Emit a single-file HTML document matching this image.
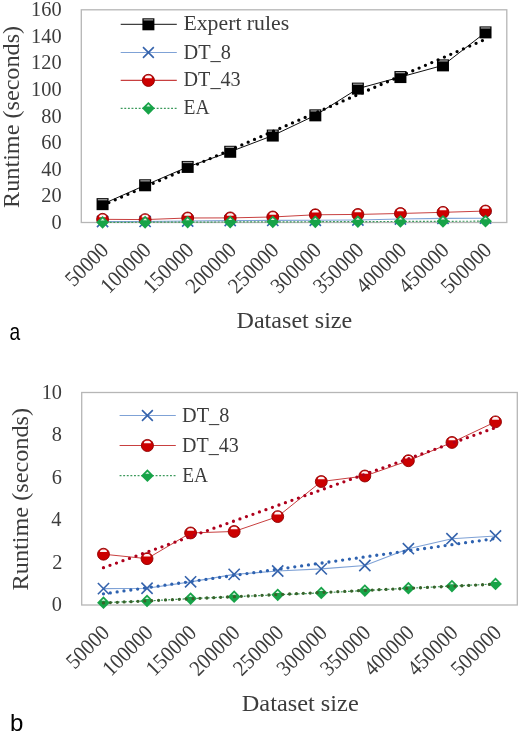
<!DOCTYPE html>
<html><head><meta charset="utf-8"><style>
html,body{margin:0;padding:0;background:#fff;overflow:hidden;}
svg{display:block;will-change:transform;}
.t{font-family:"Liberation Serif", serif;fill:#3C3C3C;font-kerning:none;}
.ab{font-family:"Liberation Sans",sans-serif;font-size:24px;fill:#000;}
</style></head><body>
<svg width="520" height="733" viewBox="0 0 520 733">
<rect width="520" height="733" fill="#fff"/>
<rect x="81.3" y="9.8" width="425.50" height="212.70" fill="none" stroke="#B6B6B6" stroke-width="1.3"/>
<text class="t" style="font-size:22px" transform="translate(51.40 228.95) scale(0.9250 1)">0</text>
<text class="t" style="font-size:22px" transform="translate(41.23 202.36) scale(0.9250 1)">20</text>
<text class="t" style="font-size:22px" transform="translate(41.23 175.77) scale(0.9250 1)">40</text>
<text class="t" style="font-size:22px" transform="translate(41.23 149.19) scale(0.9250 1)">60</text>
<text class="t" style="font-size:22px" transform="translate(41.23 122.60) scale(0.9250 1)">80</text>
<text class="t" style="font-size:22px" transform="translate(31.05 96.01) scale(0.9250 1)">100</text>
<text class="t" style="font-size:22px" transform="translate(31.05 69.43) scale(0.9250 1)">120</text>
<text class="t" style="font-size:22px" transform="translate(31.05 42.84) scale(0.9250 1)">140</text>
<text class="t" style="font-size:22px" transform="translate(31.05 16.25) scale(0.9250 1)">160</text>
<text class="t" style="font-size:22px" transform="translate(109.17 252.00) rotate(-45) translate(-50.10 0) scale(0.925 1)">50000</text>
<text class="t" style="font-size:22px" transform="translate(151.72 252.00) rotate(-45) translate(-60.27 0) scale(0.925 1)">100000</text>
<text class="t" style="font-size:22px" transform="translate(194.28 252.00) rotate(-45) translate(-60.27 0) scale(0.925 1)">150000</text>
<text class="t" style="font-size:22px" transform="translate(236.82 252.00) rotate(-45) translate(-60.27 0) scale(0.925 1)">200000</text>
<text class="t" style="font-size:22px" transform="translate(279.38 252.00) rotate(-45) translate(-60.27 0) scale(0.925 1)">250000</text>
<text class="t" style="font-size:22px" transform="translate(321.93 252.00) rotate(-45) translate(-60.27 0) scale(0.925 1)">300000</text>
<text class="t" style="font-size:22px" transform="translate(364.48 252.00) rotate(-45) translate(-60.27 0) scale(0.925 1)">350000</text>
<text class="t" style="font-size:22px" transform="translate(407.03 252.00) rotate(-45) translate(-60.27 0) scale(0.925 1)">400000</text>
<text class="t" style="font-size:22px" transform="translate(449.57 252.00) rotate(-45) translate(-60.27 0) scale(0.925 1)">450000</text>
<text class="t" style="font-size:22px" transform="translate(492.12 252.00) rotate(-45) translate(-60.27 0) scale(0.925 1)">500000</text>
<text class="t" style="font-size:23px" transform="translate(236.51 327.80) scale(1.0485 1)">Dataset size</text>
<text class="t" style="font-size:23px" transform="translate(18.50 117.05) rotate(-90) translate(-90.85 0) scale(1.0517 1)">Runtime (seconds)</text>
<text class="ab" transform="translate(9.4 340) scale(0.8 1)">a</text>
<path d="M102.57 204.15L145.12 185.28L187.68 166.93L230.22 151.78L272.77 135.56L315.32 115.35L357.88 88.63L400.43 77.07L442.97 65.37L485.52 32.40" stroke="#111" stroke-width="1.0" fill="none"/>
<path d="M102.57 221.48L145.12 221.45L187.68 221.05L230.22 220.59L272.77 220.37L315.32 220.24L357.88 220.03L400.43 218.98L442.97 218.35L485.52 218.18" stroke="#7FA2D6" stroke-width="1.1" fill="none"/>
<path d="M102.57 219.32L145.12 219.60L187.68 217.99L230.22 217.90L272.77 216.97L315.32 214.78L357.88 214.43L400.43 213.47L442.97 212.33L485.52 211.04" stroke="#C84040" stroke-width="1.0" fill="none"/>
<path d="M102.57 222.35L145.12 222.25L187.68 222.10L230.22 221.98L272.77 221.86L315.32 221.74L357.88 221.60L400.43 221.45L442.97 221.32L485.52 221.18" stroke="#3C9A5C" stroke-width="1.2" fill="none" stroke-dasharray="1.9 1.7"/>
<rect x="96.57" y="198.15" width="12.0" height="12.0" fill="#000"/><rect x="97.77" y="199.05" width="9.60" height="1.3" fill="#9A9A9A"/>
<rect x="139.12" y="179.28" width="12.0" height="12.0" fill="#000"/><rect x="140.32" y="180.18" width="9.60" height="1.3" fill="#9A9A9A"/>
<rect x="181.68" y="160.93" width="12.0" height="12.0" fill="#000"/><rect x="182.88" y="161.83" width="9.60" height="1.3" fill="#9A9A9A"/>
<rect x="224.22" y="145.78" width="12.0" height="12.0" fill="#000"/><rect x="225.42" y="146.68" width="9.60" height="1.3" fill="#9A9A9A"/>
<rect x="266.77" y="129.56" width="12.0" height="12.0" fill="#000"/><rect x="267.97" y="130.46" width="9.60" height="1.3" fill="#9A9A9A"/>
<rect x="309.32" y="109.35" width="12.0" height="12.0" fill="#000"/><rect x="310.52" y="110.25" width="9.60" height="1.3" fill="#9A9A9A"/>
<rect x="351.88" y="82.63" width="12.0" height="12.0" fill="#000"/><rect x="353.07" y="83.53" width="9.60" height="1.3" fill="#9A9A9A"/>
<rect x="394.43" y="71.07" width="12.0" height="12.0" fill="#000"/><rect x="395.62" y="71.97" width="9.60" height="1.3" fill="#9A9A9A"/>
<rect x="436.97" y="59.37" width="12.0" height="12.0" fill="#000"/><rect x="438.17" y="60.27" width="9.60" height="1.3" fill="#9A9A9A"/>
<rect x="479.52" y="26.40" width="12.0" height="12.0" fill="#000"/><rect x="480.72" y="27.30" width="9.60" height="1.3" fill="#9A9A9A"/>
<path d="M96.97 215.88L108.17 227.08M108.17 215.88L96.97 227.08" stroke="#3563AC" stroke-width="1.6" fill="none"/>
<path d="M139.53 215.85L150.72 227.05M150.72 215.85L139.53 227.05" stroke="#3563AC" stroke-width="1.6" fill="none"/>
<path d="M182.08 215.45L193.28 226.65M193.28 215.45L182.08 226.65" stroke="#3563AC" stroke-width="1.6" fill="none"/>
<path d="M224.62 214.99L235.82 226.19M235.82 214.99L224.62 226.19" stroke="#3563AC" stroke-width="1.6" fill="none"/>
<path d="M267.17 214.77L278.38 225.97M278.38 214.77L267.17 225.97" stroke="#3563AC" stroke-width="1.6" fill="none"/>
<path d="M309.72 214.64L320.93 225.84M320.93 214.64L309.72 225.84" stroke="#3563AC" stroke-width="1.6" fill="none"/>
<path d="M352.27 214.43L363.48 225.63M363.48 214.43L352.27 225.63" stroke="#3563AC" stroke-width="1.6" fill="none"/>
<path d="M394.82 213.38L406.03 224.58M406.03 213.38L394.82 224.58" stroke="#3563AC" stroke-width="1.6" fill="none"/>
<path d="M437.37 212.75L448.57 223.95M448.57 212.75L437.37 223.95" stroke="#3563AC" stroke-width="1.6" fill="none"/>
<path d="M479.92 212.58L491.12 223.78M491.12 212.58L479.92 223.78" stroke="#3563AC" stroke-width="1.6" fill="none"/>
<circle cx="102.57" cy="219.32" r="5.95" fill="#CC0000" stroke="#900000" stroke-width="0.9"/><path d="M99.05 217.15C99.05 214.99 100.81 214.59 102.57 214.59C104.33 214.59 106.09 214.99 106.09 217.15Z" fill="#ffffff" opacity="0.95"/>
<circle cx="145.12" cy="219.60" r="5.95" fill="#CC0000" stroke="#900000" stroke-width="0.9"/><path d="M141.60 217.43C141.60 215.27 143.37 214.87 145.12 214.87C146.88 214.87 148.65 215.27 148.65 217.43Z" fill="#ffffff" opacity="0.95"/>
<circle cx="187.68" cy="217.99" r="5.95" fill="#CC0000" stroke="#900000" stroke-width="0.9"/><path d="M184.16 215.82C184.16 213.66 185.92 213.26 187.68 213.26C189.44 213.26 191.20 213.66 191.20 215.82Z" fill="#ffffff" opacity="0.95"/>
<circle cx="230.22" cy="217.90" r="5.95" fill="#CC0000" stroke="#900000" stroke-width="0.9"/><path d="M226.70 215.72C226.70 213.56 228.46 213.16 230.22 213.16C231.98 213.16 233.74 213.56 233.74 215.72Z" fill="#ffffff" opacity="0.95"/>
<circle cx="272.77" cy="216.97" r="5.95" fill="#CC0000" stroke="#900000" stroke-width="0.9"/><path d="M269.25 214.79C269.25 212.63 271.01 212.23 272.77 212.23C274.53 212.23 276.29 212.63 276.29 214.79Z" fill="#ffffff" opacity="0.95"/>
<circle cx="315.32" cy="214.78" r="5.95" fill="#CC0000" stroke="#900000" stroke-width="0.9"/><path d="M311.81 212.60C311.81 210.44 313.56 210.04 315.32 210.04C317.08 210.04 318.84 210.44 318.84 212.60Z" fill="#ffffff" opacity="0.95"/>
<circle cx="357.88" cy="214.43" r="5.95" fill="#CC0000" stroke="#900000" stroke-width="0.9"/><path d="M354.36 212.25C354.36 210.09 356.12 209.69 357.88 209.69C359.63 209.69 361.39 210.09 361.39 212.25Z" fill="#ffffff" opacity="0.95"/>
<circle cx="400.43" cy="213.47" r="5.95" fill="#CC0000" stroke="#900000" stroke-width="0.9"/><path d="M396.91 211.30C396.91 209.14 398.67 208.74 400.43 208.74C402.19 208.74 403.94 209.14 403.94 211.30Z" fill="#ffffff" opacity="0.95"/>
<circle cx="442.97" cy="212.33" r="5.95" fill="#CC0000" stroke="#900000" stroke-width="0.9"/><path d="M439.45 210.15C439.45 207.99 441.21 207.59 442.97 207.59C444.73 207.59 446.49 207.99 446.49 210.15Z" fill="#ffffff" opacity="0.95"/>
<circle cx="485.52" cy="211.04" r="5.95" fill="#CC0000" stroke="#900000" stroke-width="0.9"/><path d="M482.00 208.86C482.00 206.70 483.76 206.30 485.52 206.30C487.28 206.30 489.04 206.70 489.04 208.86Z" fill="#ffffff" opacity="0.95"/>
<path d="M102.57 215.95L108.97 222.35L102.57 228.75L96.17 222.35Z" fill="#17A348"/><path d="M100.53 220.43L102.57 218.39L104.62 220.43Z" fill="#ffffff" opacity="0.85"/>
<path d="M145.12 215.85L151.53 222.25L145.12 228.65L138.72 222.25Z" fill="#17A348"/><path d="M143.08 220.33L145.12 218.28L147.17 220.33Z" fill="#ffffff" opacity="0.85"/>
<path d="M187.68 215.70L194.08 222.10L187.68 228.50L181.28 222.10Z" fill="#17A348"/><path d="M185.63 220.18L187.68 218.13L189.72 220.18Z" fill="#ffffff" opacity="0.85"/>
<path d="M230.22 215.58L236.62 221.98L230.22 228.38L223.82 221.98Z" fill="#17A348"/><path d="M228.18 220.06L230.22 218.01L232.27 220.06Z" fill="#ffffff" opacity="0.85"/>
<path d="M272.77 215.46L279.17 221.86L272.77 228.26L266.38 221.86Z" fill="#17A348"/><path d="M270.73 219.94L272.77 217.89L274.82 219.94Z" fill="#ffffff" opacity="0.85"/>
<path d="M315.32 215.34L321.72 221.74L315.32 228.14L308.93 221.74Z" fill="#17A348"/><path d="M313.28 219.82L315.32 217.77L317.37 219.82Z" fill="#ffffff" opacity="0.85"/>
<path d="M357.88 215.20L364.27 221.60L357.88 228.00L351.48 221.60Z" fill="#17A348"/><path d="M355.83 219.68L357.88 217.63L359.92 219.68Z" fill="#ffffff" opacity="0.85"/>
<path d="M400.43 215.05L406.82 221.45L400.43 227.85L394.03 221.45Z" fill="#17A348"/><path d="M398.38 219.53L400.43 217.48L402.47 219.53Z" fill="#ffffff" opacity="0.85"/>
<path d="M442.97 214.92L449.37 221.32L442.97 227.72L436.57 221.32Z" fill="#17A348"/><path d="M440.93 219.40L442.97 217.35L445.02 219.40Z" fill="#ffffff" opacity="0.85"/>
<path d="M485.52 214.78L491.92 221.18L485.52 227.58L479.12 221.18Z" fill="#17A348"/><path d="M483.48 219.26L485.52 217.22L487.57 219.26Z" fill="#ffffff" opacity="0.85"/>
<path d="M102.57 205.27L485.52 39.23" stroke="#000" stroke-width="3.3" stroke-linecap="round" stroke-dasharray="0 6.9" fill="none"/>
<path d="M120.7 24.3H176.8" stroke="#404040" stroke-width="1.2"/>
<rect x="142.40" y="18.30" width="12.0" height="12.0" fill="#000"/><rect x="143.60" y="19.20" width="9.60" height="1.3" fill="#9A9A9A"/>
<text class="t" style="font-size:20.5px" transform="translate(183.47 30.30) scale(1.0612 1)">Expert rules</text>
<path d="M120.7 52.5H176.8" stroke="#7FA2D6" stroke-width="1.1"/>
<path d="M143.00 47.10L153.80 57.90M153.80 47.10L143.00 57.90" stroke="#3563AC" stroke-width="1.6" fill="none"/>
<text class="t" style="font-size:20.5px" transform="translate(183.51 58.50) scale(0.9924 1)">DT_8</text>
<path d="M120.7 80.4H176.8" stroke="#C84040" stroke-width="1.2"/>
<circle cx="148.40" cy="80.40" r="6.05" fill="#CC0000" stroke="#900000" stroke-width="0.9"/><path d="M144.83 78.19C144.83 75.99 146.61 75.59 148.40 75.59C150.19 75.59 151.97 75.99 151.97 78.19Z" fill="#ffffff" opacity="0.95"/>
<text class="t" style="font-size:20.5px" transform="translate(183.52 86.40) scale(0.9844 1)">DT_43</text>
<path d="M120.7 108.3H176.8" stroke="#3C9A5C" stroke-width="1.3" stroke-dasharray="1.9 1.7"/>
<path d="M148.40 101.90L154.80 108.30L148.40 114.70L142.00 108.30Z" fill="#17A348"/><path d="M146.35 106.38L148.40 104.33L150.45 106.38Z" fill="#ffffff" opacity="0.85"/>
<text class="t" style="font-size:20.5px" transform="translate(183.54 114.30) scale(0.9554 1)">EA</text>
<rect x="81.7" y="392.5" width="435.60" height="212.50" fill="none" stroke="#B6B6B6" stroke-width="1.3"/>
<text class="t" style="font-size:22px" transform="translate(51.80 611.45) scale(0.9250 1)">0</text>
<text class="t" style="font-size:22px" transform="translate(52.15 568.95) scale(0.9250 1)">2</text>
<text class="t" style="font-size:22px" transform="translate(51.34 526.45) scale(0.9250 1)">4</text>
<text class="t" style="font-size:22px" transform="translate(51.63 483.95) scale(0.9250 1)">6</text>
<text class="t" style="font-size:22px" transform="translate(51.80 441.45) scale(0.9250 1)">8</text>
<text class="t" style="font-size:22px" transform="translate(41.63 398.95) scale(0.9250 1)">10</text>
<text class="t" style="font-size:22px" transform="translate(110.08 634.50) rotate(-45) translate(-50.10 0) scale(0.925 1)">50000</text>
<text class="t" style="font-size:22px" transform="translate(153.64 634.50) rotate(-45) translate(-60.27 0) scale(0.925 1)">100000</text>
<text class="t" style="font-size:22px" transform="translate(197.20 634.50) rotate(-45) translate(-60.27 0) scale(0.925 1)">150000</text>
<text class="t" style="font-size:22px" transform="translate(240.76 634.50) rotate(-45) translate(-60.27 0) scale(0.925 1)">200000</text>
<text class="t" style="font-size:22px" transform="translate(284.32 634.50) rotate(-45) translate(-60.27 0) scale(0.925 1)">250000</text>
<text class="t" style="font-size:22px" transform="translate(327.88 634.50) rotate(-45) translate(-60.27 0) scale(0.925 1)">300000</text>
<text class="t" style="font-size:22px" transform="translate(371.44 634.50) rotate(-45) translate(-60.27 0) scale(0.925 1)">350000</text>
<text class="t" style="font-size:22px" transform="translate(415.00 634.50) rotate(-45) translate(-60.27 0) scale(0.925 1)">400000</text>
<text class="t" style="font-size:22px" transform="translate(458.56 634.50) rotate(-45) translate(-60.27 0) scale(0.925 1)">450000</text>
<text class="t" style="font-size:22px" transform="translate(502.12 634.50) rotate(-45) translate(-60.27 0) scale(0.925 1)">500000</text>
<text class="t" style="font-size:23px" transform="translate(241.80 711.00) scale(1.0586 1)">Dataset size</text>
<text class="t" style="font-size:23px" transform="translate(28.10 499.25) rotate(-90) translate(-91.15 0) scale(1.0552 1)">Runtime (seconds)</text>
<text class="ab" transform="translate(10 730.7) scale(1.0 1)">b</text>
<path d="M103.48 588.64L147.04 588.21L190.60 581.84L234.16 574.40L277.72 571.00L321.28 568.88L364.84 565.48L408.40 548.69L451.96 538.70L495.52 535.94" stroke="#7FA2D6" stroke-width="1.1" fill="none"/>
<path d="M103.48 554.21L147.04 558.67L190.60 532.96L234.16 531.48L277.72 516.60L321.28 481.54L364.84 476.01L408.40 460.71L451.96 442.44L495.52 421.83" stroke="#C84040" stroke-width="1.0" fill="none"/>
<path d="M103.48 602.66L147.04 600.96L190.60 598.62L234.16 596.71L277.72 594.80L321.28 592.89L364.84 590.55L408.40 588.21L451.96 586.09L495.52 583.96" stroke="#3C9A5C" stroke-width="1.2" fill="none" stroke-dasharray="1.9 1.7"/>
<path d="M97.88 583.04L109.08 594.24M109.08 583.04L97.88 594.24" stroke="#3563AC" stroke-width="1.6" fill="none"/>
<path d="M141.44 582.61L152.64 593.81M152.64 582.61L141.44 593.81" stroke="#3563AC" stroke-width="1.6" fill="none"/>
<path d="M185.00 576.24L196.20 587.44M196.20 576.24L185.00 587.44" stroke="#3563AC" stroke-width="1.6" fill="none"/>
<path d="M228.56 568.80L239.76 580.00M239.76 568.80L228.56 580.00" stroke="#3563AC" stroke-width="1.6" fill="none"/>
<path d="M272.12 565.40L283.32 576.60M283.32 565.40L272.12 576.60" stroke="#3563AC" stroke-width="1.6" fill="none"/>
<path d="M315.68 563.27L326.88 574.48M326.88 563.27L315.68 574.48" stroke="#3563AC" stroke-width="1.6" fill="none"/>
<path d="M359.24 559.88L370.44 571.08M370.44 559.88L359.24 571.08" stroke="#3563AC" stroke-width="1.6" fill="none"/>
<path d="M402.80 543.09L414.00 554.29M414.00 543.09L402.80 554.29" stroke="#3563AC" stroke-width="1.6" fill="none"/>
<path d="M446.36 533.10L457.56 544.30M457.56 533.10L446.36 544.30" stroke="#3563AC" stroke-width="1.6" fill="none"/>
<path d="M489.92 530.34L501.12 541.54M501.12 530.34L489.92 541.54" stroke="#3563AC" stroke-width="1.6" fill="none"/>
<circle cx="103.48" cy="554.21" r="5.95" fill="#CC0000" stroke="#900000" stroke-width="0.9"/><path d="M99.96 552.04C99.96 549.88 101.72 549.48 103.48 549.48C105.24 549.48 107.00 549.88 107.00 552.04Z" fill="#ffffff" opacity="0.95"/>
<circle cx="147.04" cy="558.67" r="5.95" fill="#CC0000" stroke="#900000" stroke-width="0.9"/><path d="M143.52 556.50C143.52 554.34 145.28 553.94 147.04 553.94C148.80 553.94 150.56 554.34 150.56 556.50Z" fill="#ffffff" opacity="0.95"/>
<circle cx="190.60" cy="532.96" r="5.95" fill="#CC0000" stroke="#900000" stroke-width="0.9"/><path d="M187.08 530.79C187.08 528.63 188.84 528.23 190.60 528.23C192.36 528.23 194.12 528.63 194.12 530.79Z" fill="#ffffff" opacity="0.95"/>
<circle cx="234.16" cy="531.48" r="5.95" fill="#CC0000" stroke="#900000" stroke-width="0.9"/><path d="M230.64 529.30C230.64 527.14 232.40 526.74 234.16 526.74C235.92 526.74 237.68 527.14 237.68 529.30Z" fill="#ffffff" opacity="0.95"/>
<circle cx="277.72" cy="516.60" r="5.95" fill="#CC0000" stroke="#900000" stroke-width="0.9"/><path d="M274.20 514.42C274.20 512.26 275.96 511.86 277.72 511.86C279.48 511.86 281.24 512.26 281.24 514.42Z" fill="#ffffff" opacity="0.95"/>
<circle cx="321.28" cy="481.54" r="5.95" fill="#CC0000" stroke="#900000" stroke-width="0.9"/><path d="M317.76 479.36C317.76 477.20 319.52 476.80 321.28 476.80C323.04 476.80 324.80 477.20 324.80 479.36Z" fill="#ffffff" opacity="0.95"/>
<circle cx="364.84" cy="476.01" r="5.95" fill="#CC0000" stroke="#900000" stroke-width="0.9"/><path d="M361.32 473.84C361.32 471.68 363.08 471.28 364.84 471.28C366.60 471.28 368.36 471.68 368.36 473.84Z" fill="#ffffff" opacity="0.95"/>
<circle cx="408.40" cy="460.71" r="5.95" fill="#CC0000" stroke="#900000" stroke-width="0.9"/><path d="M404.88 458.54C404.88 456.38 406.64 455.98 408.40 455.98C410.16 455.98 411.92 456.38 411.92 458.54Z" fill="#ffffff" opacity="0.95"/>
<circle cx="451.96" cy="442.44" r="5.95" fill="#CC0000" stroke="#900000" stroke-width="0.9"/><path d="M448.44 440.26C448.44 438.10 450.20 437.70 451.96 437.70C453.72 437.70 455.48 438.10 455.48 440.26Z" fill="#ffffff" opacity="0.95"/>
<circle cx="495.52" cy="421.83" r="5.95" fill="#CC0000" stroke="#900000" stroke-width="0.9"/><path d="M492.00 419.65C492.00 417.49 493.76 417.09 495.52 417.09C497.28 417.09 499.04 417.49 499.04 419.65Z" fill="#ffffff" opacity="0.95"/>
<path d="M103.48 596.26L109.88 602.66L103.48 609.06L97.08 602.66Z" fill="#17A348"/><path d="M101.43 600.74L103.48 598.69L105.53 600.74Z" fill="#ffffff" opacity="0.85"/>
<path d="M147.04 594.56L153.44 600.96L147.04 607.36L140.64 600.96Z" fill="#17A348"/><path d="M144.99 599.04L147.04 596.99L149.09 599.04Z" fill="#ffffff" opacity="0.85"/>
<path d="M190.60 592.23L197.00 598.62L190.60 605.02L184.20 598.62Z" fill="#17A348"/><path d="M188.55 596.71L190.60 594.66L192.65 596.71Z" fill="#ffffff" opacity="0.85"/>
<path d="M234.16 590.31L240.56 596.71L234.16 603.11L227.76 596.71Z" fill="#17A348"/><path d="M232.11 594.79L234.16 592.74L236.21 594.79Z" fill="#ffffff" opacity="0.85"/>
<path d="M277.72 588.40L284.12 594.80L277.72 601.20L271.32 594.80Z" fill="#17A348"/><path d="M275.67 592.88L277.72 590.83L279.77 592.88Z" fill="#ffffff" opacity="0.85"/>
<path d="M321.28 586.49L327.68 592.89L321.28 599.29L314.88 592.89Z" fill="#17A348"/><path d="M319.23 590.97L321.28 588.92L323.33 590.97Z" fill="#ffffff" opacity="0.85"/>
<path d="M364.84 584.15L371.24 590.55L364.84 596.95L358.44 590.55Z" fill="#17A348"/><path d="M362.79 588.63L364.84 586.58L366.89 588.63Z" fill="#ffffff" opacity="0.85"/>
<path d="M408.40 581.81L414.80 588.21L408.40 594.61L402.00 588.21Z" fill="#17A348"/><path d="M406.35 586.29L408.40 584.24L410.45 586.29Z" fill="#ffffff" opacity="0.85"/>
<path d="M451.96 579.69L458.36 586.09L451.96 592.49L445.56 586.09Z" fill="#17A348"/><path d="M449.91 584.17L451.96 582.12L454.01 584.17Z" fill="#ffffff" opacity="0.85"/>
<path d="M495.52 577.56L501.92 583.96L495.52 590.36L489.12 583.96Z" fill="#17A348"/><path d="M493.47 582.04L495.52 579.99L497.57 582.04Z" fill="#ffffff" opacity="0.85"/>
<path d="M103.48 593.87L495.52 538.48" stroke="#2E62B0" stroke-width="3.3" stroke-linecap="round" stroke-dasharray="0 6.9" fill="none"/>
<path d="M103.48 567.68L495.52 427.61" stroke="#AE001C" stroke-width="3.3" stroke-linecap="round" stroke-dasharray="0 6.9" fill="none"/>
<path d="M103.48 602.95L495.52 584.14" stroke="#38622A" stroke-width="3.3" stroke-linecap="round" stroke-dasharray="0 6.9" fill="none"/>
<path d="M119.6 415.5H175.8" stroke="#7FA2D6" stroke-width="1.1"/>
<path d="M142.00 410.10L152.80 420.90M152.80 410.10L142.00 420.90" stroke="#3563AC" stroke-width="1.6" fill="none"/>
<text class="t" style="font-size:20.5px" transform="translate(182.12 421.50) scale(0.9880 1)">DT_8</text>
<path d="M119.6 445.5H175.8" stroke="#C84040" stroke-width="1.2"/>
<circle cx="147.40" cy="445.50" r="6.05" fill="#CC0000" stroke="#900000" stroke-width="0.9"/><path d="M143.83 443.29C143.83 441.09 145.61 440.69 147.40 440.69C149.19 440.69 150.97 441.09 150.97 443.29Z" fill="#ffffff" opacity="0.95"/>
<text class="t" style="font-size:20.5px" transform="translate(182.12 451.50) scale(0.9773 1)">DT_43</text>
<path d="M119.6 475.7H175.8" stroke="#3C9A5C" stroke-width="1.3" stroke-dasharray="1.9 1.7"/>
<path d="M147.40 469.30L153.80 475.70L147.40 482.10L141.00 475.70Z" fill="#17A348"/><path d="M145.35 473.78L147.40 471.73L149.45 473.78Z" fill="#ffffff" opacity="0.85"/>
<text class="t" style="font-size:20.5px" transform="translate(182.14 481.70) scale(0.9441 1)">EA</text>
</svg>
</body></html>
